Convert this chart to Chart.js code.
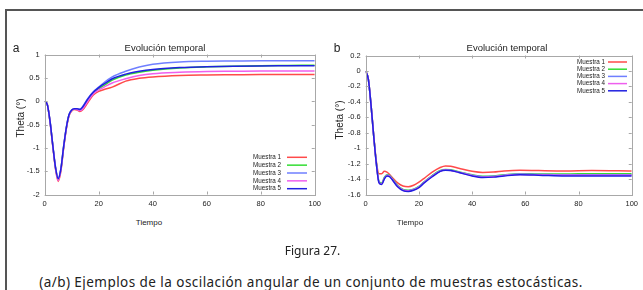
<!DOCTYPE html>
<html><head><meta charset="utf-8">
<script src="https://cdn.jsdelivr.net/npm/chart.js@4"></script>
<style>
body{margin:0;width:643px;height:290px;overflow:hidden;background:#fff;position:relative;font-family:"Liberation Sans",Arial,sans-serif;}
#frame{position:absolute;left:5px;top:9px;width:700px;height:400px;border-top:2px solid #555;border-left:2px solid #555;}
canvas{position:absolute;}
.t{position:absolute;transform:translate(-50%,-50%);white-space:nowrap;color:#222;}
.r{position:absolute;white-space:nowrap;color:#222;width:60px;height:12px;line-height:12px;text-align:center;transform:rotate(-90deg);}
.cap{font-family:"Noto Sans","Open Sans",sans-serif;color:#222;}
</style></head><body>
<div id="frame"></div>
<canvas id="ca" width="326" height="215" style="left:0;top:0;width:326px;height:215px"></canvas>
<canvas id="cb" width="321" height="215" style="left:322px;top:0;width:321px;height:215px"></canvas>
<div class="t" style="left:16px;top:48px;font-size:12px">a</div>
<div class="t" style="left:337px;top:48px;font-size:12px">b</div>
<div class="t" style="left:165px;top:46.5px;font-size:9.5px">Evolución temporal</div>
<div class="t" style="left:507px;top:46.5px;font-size:9.5px">Evolución temporal</div>
<div class="r" style="left:-9px;top:112px;font-size:10px">Theta (°)</div>
<div class="r" style="left:310px;top:114px;font-size:10px">Theta (°)</div>
<div class="t" style="left:149px;top:221.7px;font-size:8px">Tiempo</div>
<div class="t" style="left:410px;top:221.7px;font-size:8px">Tiempo</div>
<div class="t cap" style="left:312.5px;top:250px;font-size:12px">Figura 27.</div>
<div class="t cap" style="left:311px;top:281.5px;font-size:13.5px;letter-spacing:0.45px">(a/b) Ejemplos de la oscilación angular de un conjunto de muestras estocásticas.</div>
<script>
const seriesNames = ["Muestra 1","Muestra 2","Muestra 3","Muestra 4","Muestra 5"];
const seriesColors = ["#ff4a4a","#33dd33","#6f7fff","#ee5fee","#2020e0"];

const xTicks = [0,20,40,60,80,100];
const yTicksA = [-2,-1.5,-1,-0.5,0,0.5,1];
const yTicksB = [-1.6,-1.4,-1.2,-1,-0.8,-0.6,-0.4,-0.2,0,0.2];

const tA = [0,1,2,3,4,5,6,7,8,9,10,11,12,13,14,16,18,20,22,25,30,35,40,50,60,70,80,90,100];
const m1a = [0,-0.08,-0.46,-0.97,-1.45,-1.72,-1.5,-1.02,-0.6,-0.32,-0.21,-0.18,-0.19,-0.22,-0.19,-0.03,0.13,0.21,0.25,0.3,0.43,0.49,0.52,0.55,0.56,0.565,0.57,0.57,0.57];
const m2a = [0,-0.08,-0.45,-0.95,-1.43,-1.67,-1.46,-0.99,-0.58,-0.3,-0.2,-0.17,-0.17,-0.19,-0.15,0.03,0.18,0.27,0.34,0.45,0.56,0.62,0.66,0.71,0.735,0.75,0.76,0.765,0.77];
const m3a = [0,-0.08,-0.44,-0.94,-1.41,-1.65,-1.44,-0.97,-0.56,-0.29,-0.19,-0.16,-0.16,-0.17,-0.12,0.06,0.2,0.3,0.4,0.52,0.64,0.73,0.79,0.84,0.855,0.86,0.865,0.865,0.865];
const m4a = [0,-0.08,-0.45,-0.96,-1.44,-1.7,-1.48,-1.0,-0.59,-0.31,-0.2,-0.17,-0.18,-0.2,-0.17,0.0,0.16,0.24,0.3,0.39,0.48,0.55,0.59,0.62,0.635,0.64,0.645,0.645,0.645];
const m5a = [0,-0.08,-0.44,-0.95,-1.42,-1.66,-1.45,-0.98,-0.57,-0.29,-0.19,-0.16,-0.16,-0.18,-0.13,0.05,0.19,0.29,0.37,0.48,0.58,0.64,0.68,0.72,0.74,0.75,0.755,0.757,0.76];

const tB = [0,1,2,3,4,5,6,7,8,9,10,12,14,16,18,20,22,25,28,30,32,35,40,44,48,52,58,65,75,85,100];
const m1b = [0,-0.11,-0.44,-0.83,-1.17,-1.33,-1.33,-1.30,-1.31,-1.34,-1.38,-1.45,-1.49,-1.50,-1.48,-1.44,-1.39,-1.31,-1.25,-1.23,-1.235,-1.26,-1.30,-1.315,-1.31,-1.295,-1.285,-1.29,-1.295,-1.29,-1.295];
const m2b = [0,-0.11,-0.44,-0.84,-1.19,-1.43,-1.45,-1.38,-1.345,-1.355,-1.395,-1.485,-1.535,-1.545,-1.53,-1.495,-1.435,-1.355,-1.29,-1.275,-1.28,-1.305,-1.345,-1.365,-1.36,-1.345,-1.33,-1.335,-1.335,-1.33,-1.33];
const m3b = [0,-0.11,-0.44,-0.84,-1.2,-1.44,-1.46,-1.39,-1.35,-1.36,-1.40,-1.49,-1.54,-1.55,-1.535,-1.50,-1.44,-1.36,-1.295,-1.28,-1.285,-1.31,-1.35,-1.37,-1.365,-1.35,-1.335,-1.34,-1.345,-1.345,-1.345];
const m4b = [0,-0.11,-0.44,-0.84,-1.2,-1.445,-1.465,-1.395,-1.355,-1.365,-1.405,-1.495,-1.545,-1.555,-1.54,-1.505,-1.445,-1.365,-1.30,-1.283,-1.288,-1.313,-1.355,-1.375,-1.37,-1.355,-1.34,-1.345,-1.35,-1.35,-1.35];
const m5b = [0,-0.11,-0.44,-0.84,-1.2,-1.45,-1.47,-1.40,-1.36,-1.37,-1.41,-1.50,-1.55,-1.56,-1.545,-1.51,-1.45,-1.37,-1.30,-1.285,-1.29,-1.315,-1.36,-1.38,-1.375,-1.36,-1.345,-1.35,-1.36,-1.36,-1.36];

const frameTicks = {
  id:'frameTicks',
  afterDraw(chart, args, opts){
    const {ctx, chartArea:a, scales:{x,y}} = chart;
    ctx.save();
    ctx.strokeStyle = '#a8a8a8'; ctx.lineWidth = 1;
    ctx.strokeRect(Math.round(a.left)+0.5, Math.round(a.top)+0.5, Math.round(a.right-a.left), Math.round(a.bottom-a.top));
    ctx.beginPath();
    x.ticks.forEach(t=>{ const px=Math.round(x.getPixelForValue(t.value))+0.5;
      ctx.moveTo(px,a.bottom); ctx.lineTo(px,a.bottom-3); ctx.moveTo(px,a.top); ctx.lineTo(px,a.top+3);});
    y.ticks.forEach(t=>{ const py=Math.round(y.getPixelForValue(t.value))+0.5;
      ctx.moveTo(a.left,py); ctx.lineTo(a.left+3,py); ctx.moveTo(a.right,py); ctx.lineTo(a.right-3,py);});
    ctx.stroke();
    const L = opts.legend;
    ctx.font = '6.3px "Liberation Sans", Arial, sans-serif';
    ctx.textAlign='right'; ctx.textBaseline='middle'; ctx.fillStyle='#222';
    chart.data.datasets.forEach((ds,i)=>{
      const yy = L.y + i*L.dy;
      ctx.fillText(ds.label, L.tx, yy);
      ctx.strokeStyle = ds.borderColor; ctx.lineWidth = 1.5;
      ctx.beginPath(); ctx.moveTo(L.x1, yy); ctx.lineTo(L.x2, yy); ctx.stroke();
    });
    ctx.restore();
  }
};

function makeChart(id, times, series, yTicks, ymin, ymax, pad, axW, legend){
  const datasets = series.map((s,i)=>({
    label: seriesNames[i],
    data: times.map((t,k)=>({x:t, y:s[k]})),
    borderColor: seriesColors[i], borderWidth: 1.5,
    pointRadius: 0, fill:false, cubicInterpolationMode:'monotone',
    order: series.length - i
  }));
  const tickFont = {family:'"Liberation Sans", Arial, sans-serif', size:7.5};
  return new Chart(document.getElementById(id), {
    type:'line',
    data:{datasets},
    options:{
      responsive:false, animation:false, devicePixelRatio:1,
      layout:{padding:pad},
      plugins:{legend:{display:false}, tooltip:{enabled:false}, title:{display:false},
        frameTicks:{legend}},
      scales:{
        x:{type:'linear', min:0, max:100,
          grid:{display:false, drawTicks:false}, border:{display:false},
          afterBuildTicks(s){ s.ticks = xTicks.map(v=>({value:v})); },
          afterFit(s){ s.height = axW.h; },
          ticks:{font:tickFont, color:'#222', padding:5, maxRotation:0, callback:v=>String(v)}},
        y:{type:'linear', min:ymin, max:ymax,
          grid:{display:false, drawTicks:false}, border:{display:false},
          afterBuildTicks(s){ s.ticks = yTicks.map(v=>({value:v})); },
          afterFit(s){ s.width = axW.w; },
          ticks:{font:tickFont, color:'#222', padding:5, callback:v=>String(v)}}
      }
    },
    plugins:[frameTicks]
  });
}

makeChart('ca', tA, [m1a,m2a,m3a,m4a,m5a], yTicksA, -2, 1,
  {left:0, top:54.5, right:10, bottom:0}, {w:44.7, h:20.5},
  {tx:281, x1:287, x2:307, y:157.3, dy:7.85});
makeChart('cb', tB, [m1b,m2b,m3b,m4b,m5b], yTicksB, -1.6, 0.2,
  {left:0, top:55.5, right:8, bottom:0}, {w:43.7, h:20.5},
  {tx:283, x1:286, x2:305, y:62, dy:7.2});
</script>
</body></html>
